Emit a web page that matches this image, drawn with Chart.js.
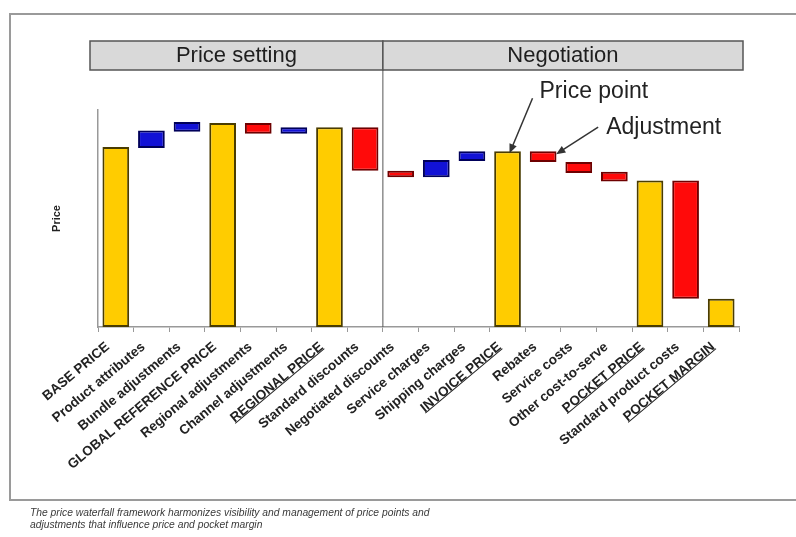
<!DOCTYPE html>
<html>
<head>
<meta charset="utf-8">
<script src="https://cdn.jsdelivr.net/npm/chart.js@4"></script>
<style>
  body { margin: 0; background: #fff; }
  #wrap { position: relative; width: 796px; height: 537px; overflow: hidden; }
  #frame { position: absolute; left: 9px; top: 13px; width: 800px; height: 484px; border: 2px solid #9a9a9a; }
  #chartbox { position: absolute; left: 0; top: 0; width: 796px; height: 537px; }
  #caption { position: absolute; left: 30px; top: 507px; font: italic 10.3px Arial, "Liberation Sans", sans-serif; line-height: 12px; color: #3a3a3a; }
</style>
</head>
<body>
<div id="wrap">
  <div id="frame"></div>
  <div id="chartbox"><canvas id="waterfall"></canvas></div>
  <div id="caption">The price waterfall framework harmonizes visibility and management of price points and<br>adjustments that influence price and pocket margin</div>
</div>
<script>
var categories = ["BASE PRICE", "Product attributes", "Bundle adjustments", "GLOBAL REFERENCE PRICE",
  "Regional adjustments", "Channel adjustments", "REGIONAL PRICE", "Standard discounts",
  "Negotiated discounts", "Service charges", "Shipping charges", "INVOICE PRICE",
  "Rebates", "Service costs", "Other cost-to-serve", "POCKET PRICE",
  "Standard product costs", "POCKET MARGIN"];
var barStart = [0, 82.5, 90, 0, 89, 89, 0, 72, 69, 69, 76.5, 0, 76, 71, 67, 0, 13, 0];
var barEnd = [83, 90.5, 94.5, 94, 94, 92, 92, 92, 72, 77, 81, 81, 81, 76, 71.5, 67.5, 67.5, 13];
var barKind = ["total", "up", "up", "total", "down", "up", "total", "down", "down", "up", "up", "total",
  "down", "down", "down", "total", "down", "total"];
var underlined = ["REGIONAL PRICE", "INVOICE PRICE", "POCKET PRICE", "POCKET MARGIN"];
var sections = ["Price setting", "Negotiation"];

var fillColors = { total: "#ffcc00", up: "#1212d6", down: "#ff0a0a" };
var edgeColors = { total: "#4a3c00", up: "#00005a", down: "#6e0000" };
var FONT = 'Arial, "Liberation Sans", sans-serif';
var LABEL_OFFSET = -8, LABEL_PAD = 7, TICK_LEN = 5, LABEL_SIZE = 13.5;

var floating = categories.map(function (c, i) { return [barStart[i], barEnd[i]]; });

function arrow(ctx, x1, y1, x2, y2) {
  var a = Math.atan2(y2 - y1, x2 - x1);
  ctx.beginPath();
  ctx.moveTo(x1, y1);
  ctx.lineTo(x2 - 6 * Math.cos(a), y2 - 6 * Math.sin(a));
  ctx.stroke();
  ctx.beginPath();
  ctx.moveTo(x2, y2);
  ctx.lineTo(x2 - 10 * Math.cos(a - 0.4), y2 - 10 * Math.sin(a - 0.4));
  ctx.lineTo(x2 - 10 * Math.cos(a + 0.4), y2 - 10 * Math.sin(a + 0.4));
  ctx.closePath();
  ctx.fill();
}

var extras = {
  id: "extras",
  afterDraw: function (chart) {
    var ctx = chart.ctx, xs = chart.scales.x, ys = chart.scales.y, area = chart.chartArea;
    var split = (xs.getPixelForValue(7) + xs.getPixelForValue(8)) / 2;
    ctx.save();

    // section header boxes
    var boxes = [[area.left - 8, split], [split, area.right + 4]];
    ctx.font = "22px " + FONT;
    ctx.textAlign = "center";
    ctx.textBaseline = "middle";
    boxes.forEach(function (b, i) {
      ctx.fillStyle = "#d9d9d9";
      ctx.fillRect(b[0], 41, b[1] - b[0], 29);
      ctx.strokeStyle = "#555";
      ctx.lineWidth = 1.5;
      ctx.strokeRect(b[0], 41, b[1] - b[0], 29);
      ctx.fillStyle = "#1e1e1e";
      ctx.fillText(sections[i], (b[0] + b[1]) / 2, 56);
    });
    ctx.beginPath();
    ctx.strokeStyle = "#555";
    ctx.lineWidth = 1;
    ctx.moveTo(split, 70);
    ctx.lineTo(split, area.bottom);
    ctx.stroke();

    // underline the price points
    ctx.font = "bold " + LABEL_SIZE + "px " + FONT;
    ctx.strokeStyle = "#222";
    ctx.lineWidth = 1;
    var rot = -xs.labelRotation * Math.PI / 180;
    var lh = LABEL_SIZE * 1.2;
    var off = 12.5;
    categories.forEach(function (c, i) {
      if (underlined.indexOf(c) < 0) return;
      var w = ctx.measureText(c).width;
      ctx.save();
      ctx.translate(xs.getPixelForTick(i) + LABEL_OFFSET + lh / 2 * Math.sin(rot), xs.top + TICK_LEN + LABEL_PAD);
      ctx.rotate(rot);
      ctx.beginPath();
      ctx.moveTo(-w, off);
      ctx.lineTo(0, off);
      ctx.stroke();
      ctx.restore();
    });

    // annotations
    var inv = categories.indexOf("INVOICE PRICE");
    var reb = categories.indexOf("Rebates");
    var p1x = xs.getPixelForValue(inv) + 2, p1y = ys.getPixelForValue(barEnd[inv]) + 2;
    var p2x = xs.getPixelForValue(reb) + 13, p2y = ys.getPixelForValue(barEnd[reb]) + 3;
    ctx.strokeStyle = "#333";
    ctx.fillStyle = "#333";
    ctx.lineWidth = 1.5;
    arrow(ctx, p1x + 23, p1y - 55, p1x, p1y);
    arrow(ctx, p2x + 42, p2y - 27, p2x, p2y);
    ctx.font = "23px " + FONT;
    ctx.textAlign = "left";
    ctx.textBaseline = "middle";
    ctx.fillStyle = "#222";
    ctx.fillText("Price point", p1x + 30, p1y - 62);
    ctx.fillText("Adjustment", p2x + 50, p2y - 27);
    ctx.restore();
  }
};

Chart.defaults.font.family = FONT;

new Chart("waterfall", {
  type: "bar",
  data: {
    labels: categories,
    datasets: [{
      data: floating,
      backgroundColor: barKind.map(function (k) { return fillColors[k]; }),
      borderColor: barKind.map(function (k) { return edgeColors[k]; }),
      borderWidth: 2,
      borderSkipped: false,
      barPercentage: 0.75,
      categoryPercentage: 1
    }]
  },
  options: {
    responsive: true,
    maintainAspectRatio: false,
    animation: false,
    layout: { padding: { left: 40, right: 57, top: 110, bottom: 60 } },
    plugins: { legend: { display: false }, tooltip: { enabled: false } },
    scales: {
      x: {
        afterFit: function (s) { s.height = 150; },
        grid: { drawOnChartArea: false, drawTicks: true, tickLength: TICK_LEN, color: "#999", offset: true },
        border: { color: "#999", width: 1.5 },
        ticks: {
          autoSkip: false, minRotation: 40, maxRotation: 40,
          padding: LABEL_PAD, labelOffset: LABEL_OFFSET,
          color: "#222", font: { size: LABEL_SIZE, weight: "bold" }
        }
      },
      y: {
        min: 0, max: 100,
        afterFit: function (s) { s.width = 58; },
        grid: { display: false, drawTicks: false },
        border: { color: "#999", width: 1.5 },
        ticks: { display: false },
        title: { display: true, text: "Price", color: "#222", font: { size: 11, weight: "bold" }, padding: { top: 10, bottom: 0 } }
      }
    }
  },
  plugins: [extras]
});
</script>
</body>
</html>
